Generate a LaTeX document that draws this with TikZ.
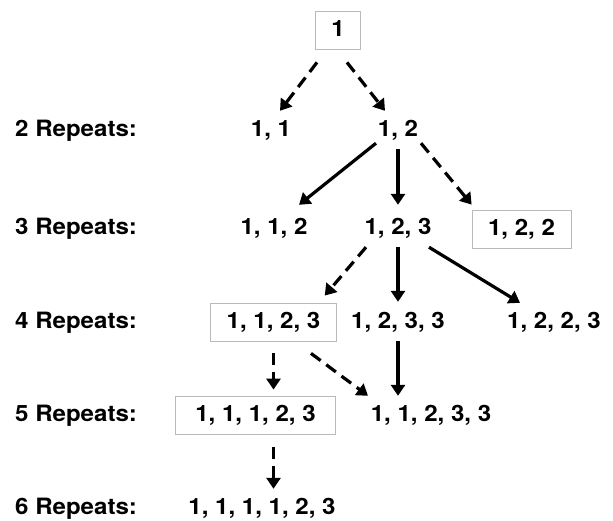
\documentclass[tikz,border=0pt]{standalone}
\usepackage{fontspec}
\setmainfont{TeX Gyre Heros}[FakeStretch=1.07]
\usetikzlibrary{arrows.meta}

\begin{document}
\begin{tikzpicture}[x=1pt, y=-1pt,
  every node/.style={font=\fontsize{22.5}{26}\selectfont\bfseries, text height=17pt, text depth=4.5pt, inner xsep=16pt, inner ysep=8.25pt},
  boxed/.style={draw=gray!55, line width=0.8pt},
  rowlabel/.style={anchor=west, inner sep=0pt},
  solidarrow/.style={line width=3.2pt, -{Triangle[length=11pt,width=14pt]}},
  dasharrow/.style={solidarrow, dash pattern=on 12pt off 7pt}]
\useasboundingbox (0,0) rectangle (613,521);

%row labels
\foreach \n/\y in {2/130,3/228,4/322,5/415,6/508}
  \node[rowlabel] (lab\n) at (15,\y) {\n\ Repeats:};

%sequences
\node[boxed] (top) at (338,30.5) {1};
\node (r2a) at (271,130) {1, 1};
\node (r2b) at (398,130) {1, 2};
\node (r3a) at (274,228) {1, 1, 2};
\node (r3b) at (398,228) {1, 2, 3};
\node[boxed] (r3c) at (521.5,229) {1, 2, 2};
\node[boxed] (r4a) at (273.5,322) {1, 1, 2, 3};
\node (r4b) at (398,322) {1, 2, 3, 3};
\node (r4c) at (554,322) {1, 2, 2, 3};
\node[boxed, inner xsep=20pt] (r5a) at (255.5,415) {1, 1, 1, 2, 3};
\node (r5b) at (431,415) {1, 1, 2, 3, 3};
\node (r6a) at (262,508) {1, 1, 1, 1, 2, 3};

%arrows
\draw[dasharrow] ([xshift=-21pt,yshift=-12.5pt]top.south) -- ([xshift=9pt]r2a.north);
\draw[dasharrow] ([xshift=9pt,yshift=-12.5pt]top.south) -- ([xshift=-13pt]r2b.north);
\draw[solidarrow] ([xshift=-22pt,yshift=6pt]r2b.south) -- ([xshift=25pt,yshift=4pt]r3a.north);
\draw[solidarrow, shorten >=4pt] (r2b) -- (r3b);
\draw[dasharrow] ([xshift=23pt,yshift=6pt]r2b.south) -- ([yshift=5pt]r3c.north west);
\draw[dasharrow] ([xshift=-32pt]r3b.south) -- ([xshift=-12pt,yshift=7pt]r4a.north east);
\draw[solidarrow, shorten >=1pt] (r3b) -- (r4b);
\draw[solidarrow] ([xshift=31pt]r3b.south) -- ([xshift=-34pt]r4c.north);
\draw[dasharrow, shorten <=12pt, shorten >=6pt] (r4a.south) -- (r4a.south |- r5a.north);
\draw[dasharrow] ([xshift=37.5pt,yshift=-12pt]r4a.south) -- ([xshift=-63pt]r5b.north);
\draw[solidarrow] (r4b.south) -- (r4b.south |- r5b.north);
\draw[dasharrow, shorten <=13pt] (r5a.south -| r4a) -- (r6a.north -| r4a);

\end{tikzpicture}
\end{document}
